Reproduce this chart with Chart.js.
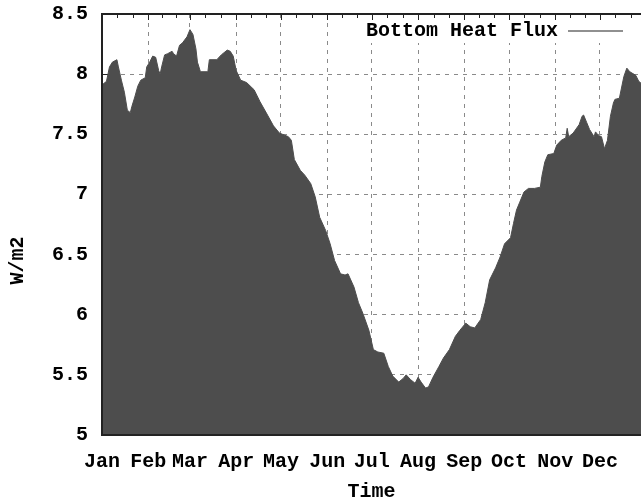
<!DOCTYPE html>
<html>
<head>
<meta charset="utf-8">
<script src="https://cdn.jsdelivr.net/npm/chart.js@4/dist/chart.umd.min.js"></script>
<style>
html,body{margin:0;padding:0;background:#fff;}
canvas{display:block;}
</style>
</head>
<body>
<canvas id="c" width="641" height="504"></canvas>
<script>
// ---- data ----
const MONTHS = ['Jan','Feb','Mar','Apr','May','Jun','Jul','Aug','Sep','Oct','Nov','Dec'];
const MONTH_START = [0,31,59,90,120,151,181,212,243,273,304,334];
const Y_TICKS = [5,5.5,6,6.5,7,7.5,8,8.5];
const SERIES_NAME = 'Bottom Heat Flux';
const DAYS = [0,3,5,7,10,11,13,15,17,19,20,22,24,26,29,30,32,34,36,38,39,40,42,44,47,48,50,52,54,57,59,61,63,64,66,71,72,77,80,84,86,88,90,93,97,102,106,111,115,119,125,127,129,133,136,140,143,146,150,153,156,160,163,165,169,172,175,179,182,185,189,192,195,199,202,204,207,210,212,214,217,219,222,226,229,233,237,240,244,247,250,254,257,260,264,267,270,274,276,278,280,283,286,290,294,295,297,299,303,305,308,311,312,313,316,320,322,323,325,327,330,331,333,335,337,339,341,343,344,347,350,352,354,358,360,362,365];
const FLUX = [7.91,7.94,8.06,8.10,8.12,8.06,7.95,7.85,7.70,7.68,7.73,7.81,7.90,7.95,7.97,8.06,8.10,8.15,8.14,8.03,8.00,8.06,8.16,8.17,8.19,8.17,8.15,8.24,8.26,8.31,8.37,8.33,8.21,8.10,8.02,8.02,8.12,8.12,8.16,8.20,8.19,8.15,8.03,7.95,7.93,7.87,7.77,7.66,7.57,7.51,7.48,7.45,7.29,7.20,7.16,7.09,6.98,6.81,6.70,6.59,6.45,6.34,6.33,6.34,6.23,6.10,6.01,5.87,5.71,5.69,5.68,5.57,5.49,5.44,5.47,5.50,5.46,5.43,5.48,5.44,5.39,5.40,5.48,5.57,5.64,5.71,5.82,5.87,5.93,5.90,5.89,5.96,6.10,6.29,6.39,6.48,6.59,6.64,6.76,6.87,6.93,7.02,7.05,7.05,7.06,7.15,7.27,7.33,7.34,7.41,7.45,7.47,7.55,7.48,7.51,7.58,7.65,7.66,7.60,7.54,7.48,7.52,7.49,7.48,7.38,7.45,7.65,7.76,7.79,7.80,7.98,8.05,8.02,7.99,7.94,7.92,7.90];
const X_MIN = 0;
const X_MAX = 361.5;   // visible right edge of the plot (Dec 28)

// ---- style ----
const FONT = {family: "'Liberation Mono', 'DejaVu Sans Mono', monospace", size: 20, weight: 'bold'};
const FILL = '#4d4d4d';
const GRID = '#8a8a8a';
const FRAME = '#222';

Chart.defaults.font.family = FONT.family;
Chart.defaults.font.size = FONT.size;
Chart.defaults.font.weight = FONT.weight;
Chart.defaults.color = '#000';

const frameTicks = {
  id: 'frameTicks',
  afterLayout(chart) {
    const lg = chart.legend, ca = chart.chartArea;
    if (!lg) return;
    lg.top = ca.top; lg.bottom = ca.bottom; lg.height = ca.bottom - ca.top;
    lg.right = ca.right - 11; lg.left = lg.right - lg.width;
  },
  beforeDatasetsDraw(chart) {
    const {ctx, chartArea: ca, scales: {y}} = chart;
    ctx.save();
    ctx.strokeStyle = FRAME; ctx.lineWidth = 1;
    Y_TICKS.forEach(v => {
      const py = Math.round(y.getPixelForValue(v)) + 0.5;
      ctx.beginPath(); ctx.moveTo(ca.left, py); ctx.lineTo(ca.left + 6, py); ctx.stroke();
    });
    ctx.restore();
  },
  afterDatasetsDraw(chart) {
    const {ctx, chartArea: ca, scales: {x}} = chart;
    const lg = chart.legend;
    if (lg && lg.legendHitBoxes && lg.legendHitBoxes.length) {
      const hb = lg.legendHitBoxes[0];
      ctx.save();
      ctx.fillStyle = '#fff';
      ctx.fillRect(hb.left - 8, ca.top + 1, ca.right - (hb.left - 8), hb.top + hb.height + 2 - (ca.top + 1));
      ctx.restore();
      lg.draw();
    }
    ctx.save();
    ctx.strokeStyle = FRAME; ctx.lineWidth = 1;
    const ends = MONTH_START.concat([365]);
    for (let i = 0; i < MONTH_START.length; i++) {
      const a = ends[i], b = ends[i + 1];
      [[a, 6], [a + (b - a) / 3, 4], [a + 2 * (b - a) / 3, 4]].forEach(([v, len]) => {
        if (v > X_MAX) return;
        const px = Math.round(x.getPixelForValue(v)) + 0.5;
        ctx.beginPath(); ctx.moveTo(px, ca.top); ctx.lineTo(px, ca.top + len); ctx.stroke();
      });
    }
    ctx.restore();
  }
};

new Chart(document.getElementById('c'), {
  type: 'line',
  data: {
    datasets: [{
      label: SERIES_NAME,
      data: DAYS.map((d, i) => ({x: d, y: FLUX[i]})),
      fill: 'start',
      backgroundColor: FILL,
      borderColor: FILL,
      borderWidth: 1,
      pointRadius: 0,
      tension: 0
    }]
  },
  options: {
    responsive: false,
    animation: false,
    events: [],
    layout: {padding: {left: 0, right: 0, top: 14, bottom: 0}},
    plugins: {
      tooltip: {enabled: false},
      legend: {
        display: true,
        position: 'chartArea',
        fullSize: false,
        align: 'start',
        rtl: true,
        textDirection: 'ltr',
        labels: {
          boxWidth: 55,
          boxHeight: 1,
          padding: 7,
          color: '#000',
          font: FONT,
          generateLabels: (chart) => chart.data.datasets.map((ds, i) => ({
            text: ds.label, fillStyle: '#222', strokeStyle: '#222', lineWidth: 0,
            hidden: false, datasetIndex: i, fontColor: '#000'
          }))
        }
      }
    },
    scales: {
      x: {
        type: 'linear', position: 'bottom', min: X_MIN, max: X_MAX,
        afterBuildTicks: s => { s.ticks = MONTH_START.map(v => ({value: v})); },
        afterFit: s => { s.height = 69; },
        ticks: {
          autoSkip: false, maxRotation: 0, padding: 15, font: FONT, color: '#000',
          callback: v => MONTHS[MONTH_START.indexOf(v)]
        },
        grid: {color: GRID, lineWidth: 1, drawTicks: false},
        border: {display: true, color: FRAME, width: 2, dash: [4, 5], z: 1},
        title: {display: true, text: 'Time', font: FONT, color: '#000', padding: {top: 0, bottom: 0}}
      },
      xTop: {
        type: 'linear', position: 'top', min: X_MIN, max: X_MAX,
        afterFit: s => { s.height = 0; },
        ticks: {display: false},
        grid: {display: false, drawTicks: false},
        border: {display: true, color: FRAME, width: 2, z: 1}
      },
      y: {
        type: 'linear', position: 'left', min: 5, max: 8.5,
        afterBuildTicks: s => { s.ticks = Y_TICKS.map(v => ({value: v})); },
        afterFit: s => { s.width = 102; },
        ticks: {padding: 0, font: FONT, color: '#000', callback: v => String(v)},
        grid: {color: GRID, lineWidth: 1, drawTicks: true, tickLength: 14, tickColor: 'rgba(0,0,0,0)'},
        border: {display: true, color: FRAME, width: 2, dash: [4, 5], z: 1},
        title: {display: true, text: 'W/m2      ', font: FONT, color: '#000', padding: {top: 6, bottom: 0}}
      }
    }
  },
  plugins: [frameTicks]
});
</script>
</body>
</html>
